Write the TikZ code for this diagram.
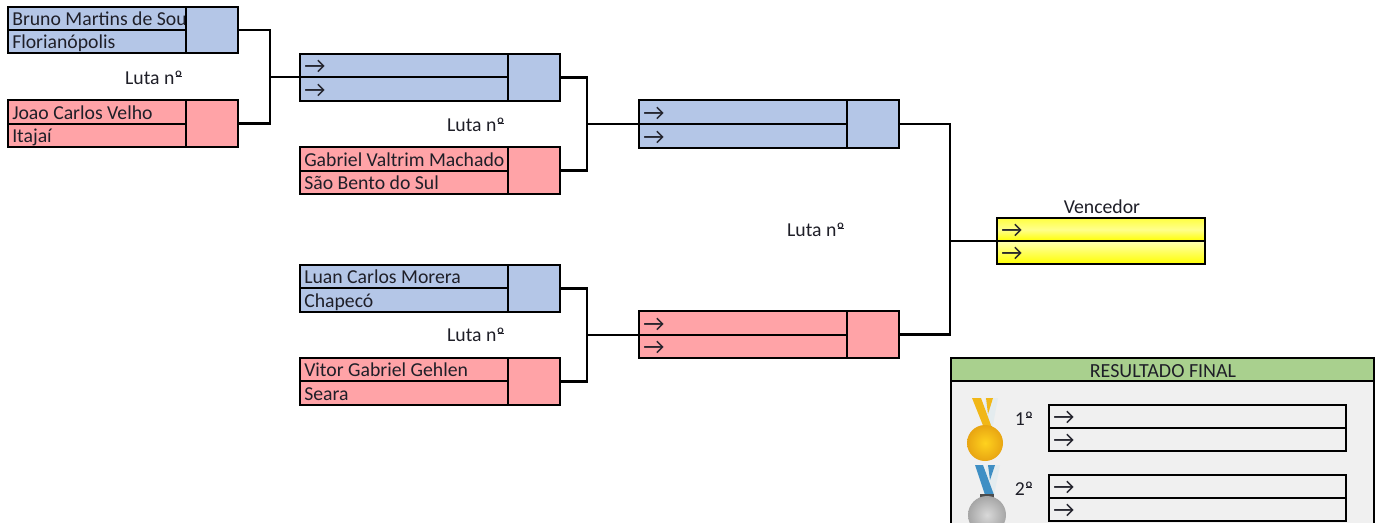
\documentclass[tikz,border=0pt]{standalone}
\usepackage{fontspec}
\setmainfont{Carlito}
\usetikzlibrary{calc}
\definecolor{bluefill}{HTML}{B4C6E7}
\definecolor{redfill}{HTML}{FFA3A7}
\definecolor{greenfill}{HTML}{A9D08E}
\definecolor{panel}{HTML}{F0F0F0}
\definecolor{inkt}{HTML}{1F1F28}
\definecolor{goldA}{HTML}{FFD21E}
\definecolor{goldB}{HTML}{E8A512}
\definecolor{ribblue}{HTML}{3F8FC4}
\definecolor{ribpale}{HTML}{E4ECEF}
\newcommand{\ordm}{\ooalign{º\cr\hfil\raisebox{0.40em}{\rule{0.3em}{0.055em}}\hfil\cr}}
\newcommand{\arr}{\raisebox{-0.75pt}{\fontsize{17.5pt}{18pt}\selectfont →}}
\tikzset{
  x=0.75pt,y=-0.75pt,
  ln/.style={line width=2pt,draw=black},
  cell/.style={ln,rectangle,inner sep=0pt,outer sep=0pt,anchor=north west},
  lbl/.style={font=\fontsize{14.8pt}{16pt}\selectfont,text=inkt,inner sep=0pt},
}
% name, x1, y1, xdiv, x2, y2, ymid, fill, top|bottom text
\newcommand{\bracketbox}[9]{%
  \def\bbn{#1}%
  \pgfmathsetmacro\bbwl{(#4-#2)*0.75}\pgfmathsetmacro\bbwr{(#5-#4)*0.75}%
  \pgfmathsetmacro\bbht{(#7-#3)*0.75}\pgfmathsetmacro\bbhb{(#6-#7)*0.75}\pgfmathsetmacro\bbhs{(#6-#3)*0.75}%
  \node[cell,fill=#8,minimum width=\bbwl pt,minimum height=\bbht pt] (#1t) at (#2,#3) {};%
  \node[cell,fill=#8,minimum width=\bbwl pt,minimum height=\bbhb pt] (#1b) at (#2,#7) {};%
  \bboxtext{#9}%
  \node[cell,fill=#8,minimum width=\bbwr pt,minimum height=\bbhs pt] (#1s) at (#4,#3) {};%
}
\newcommand{\bboxtext}[1]{\bboxtextii#1\relax}
\def\bboxtextii#1|#2\relax{%
  \node[lbl,anchor=base west] (\bbn tt) at ($(\bbn t.south west)+(4,-4.5)$) {#1};%
  \node[lbl,anchor=base west] (\bbn bb) at ($(\bbn b.south west)+(4,-4.5)$) {#2};%
}
\begin{document}
\begin{tikzpicture}
\useasboundingbox (0,0) rectangle (1381,522);
\fill[white] (0,0) rectangle (1381,522);

\bracketbox{A}{8}{7}{186}{238}{53}{30}{bluefill}{Bruno Martins de Sou|Florianópolis}
\bracketbox{B}{8}{100}{186}{238}{147}{124}{redfill}{Joao Carlos Velho|Itajaí}
\bracketbox{C}{300}{54}{508}{560}{101}{77}{bluefill}{\arr|\arr}
\bracketbox{D}{300}{147}{508}{560}{194}{171}{redfill}{Gabriel Valtrim Machado|São Bento do Sul}
\bracketbox{E}{300}{265}{508}{560}{312}{288}{bluefill}{Luan Carlos Morera|Chapecó}
\bracketbox{F}{300}{358}{508}{560}{405}{381}{redfill}{Vitor Gabriel Gehlen|Seara}
\bracketbox{G}{639}{100}{847}{899}{148}{124}{bluefill}{\arr|\arr}
\bracketbox{H}{639}{311}{847}{899}{358}{335}{redfill}{\arr|\arr}

% winner
\node[cell,top color=yellow!75!white,bottom color=yellow,middle color=yellow!45!white,minimum width=156pt,minimum height=17.25pt] (Wt) at (997,218) {};
\node[cell,top color=yellow!30!white,bottom color=yellow,minimum width=156pt,minimum height=17.25pt] (Wb) at (997,241) {};
\node[lbl,anchor=base west] (Wtt) at ($(Wt.south west)+(4,-4.5)$) {\arr};
\node[lbl,anchor=base west] (Wbb) at ($(Wb.south west)+(4,-4.5)$) {\arr};
\node[lbl] (wlabel) at (1102,207) {Vencedor};

% fight labels
\node[lbl] (l1) at (154,78) {Luta n\ordm};
\node[lbl] (l2) at (476,125) {Luta n\ordm};
\node[lbl] (l3) at (476,335) {Luta n\ordm};
\node[lbl] (l4) at (816,230) {Luta n\ordm};

% connectors
\coordinate (J1) at (270,77);
\coordinate (J2) at (587,124);
\coordinate (J3) at (587,335);
\coordinate (J4) at (950,241);
\draw[ln] (As.east) -| (J1) |- (Bs.east);
\draw[ln] (J1) -- (Ct.south west);
\draw[ln] (Cs.east) -| (J2) |- (Ds.east);
\draw[ln] (J2) -- (Gt.south west);
\draw[ln] (Es.east) -| (J3) |- (Fs.east);
\draw[ln] (J3) -- (Ht.south west);
\draw[ln] (Gs.east) -| (J4) |- (Hs.east);
\draw[ln] (J4) -- (Wt.south west);

% result panel
\begin{scope}
\clip (0,0) rectangle (1381,522);
\node[cell,fill=panel,minimum width=317.25pt,minimum height=132pt] (P) at (951,358) {};
\node[cell,fill=greenfill,minimum width=317.25pt,minimum height=17.25pt] (Ph) at (951,358) {};
\node[lbl,font=\fontsize{15pt}{16pt}\selectfont] (Pt) at (1163,371) {RESULTADO FINAL};
\node[lbl] (p1) at (1024,419) {1\ordm};
\node[lbl] (p2) at (1024,489) {2\ordm};
\node[cell,minimum width=222.75pt,minimum height=17.25pt] (R1) at (1049,405) {};
\node[cell,minimum width=222.75pt,minimum height=17.25pt] (R2) at (1049,428) {};
\node[cell,minimum width=222.75pt,minimum height=17.25pt] (R3) at (1049,475) {};
\node[cell,minimum width=222.75pt,minimum height=17.25pt] (R4) at (1049,498) {};
\node[lbl,anchor=base west] (R1a) at ($(R1.south west)+(4,-4.5)$) {\arr};
\node[lbl,anchor=base west] (R2a) at ($(R2.south west)+(4,-4.5)$) {\arr};
\node[lbl,anchor=base west] (R3a) at ($(R3.south west)+(4,-4.5)$) {\arr};
\node[lbl,anchor=base west] (R4a) at ($(R4.south west)+(4,-4.5)$) {\arr};
% gold medal
\fill[ribpale] (985,398) -- (998,398) -- (992,430) -- (983,430) -- cycle;
\fill[goldB!60!goldA] (972,398) -- (981,398) -- (992,428) -- (984,428) -- cycle;
\fill[goldB!60!goldA] (986,398) -- (993,398) -- (988,414) -- cycle;
\fill[goldB!80!black] (979,426) rectangle (992,431);
\shade[inner color=goldA,outer color=goldB] (985,443) circle[radius=18];
% silver medal
\fill[ribpale] (986,465) -- (1000,465) -- (994,495) -- (986,495) -- cycle;
\fill[ribblue] (975,465) -- (983,465) -- (994,495) -- (985,495) -- cycle;
\fill[ribblue] (988,465) -- (995,465) -- (990,480) -- cycle;
\fill[gray!60!black] (980,494) rectangle (994,498);
\shade[inner color=gray!30,outer color=gray!70] (987,515) circle[radius=19];
\end{scope}
\end{tikzpicture}
\end{document}
